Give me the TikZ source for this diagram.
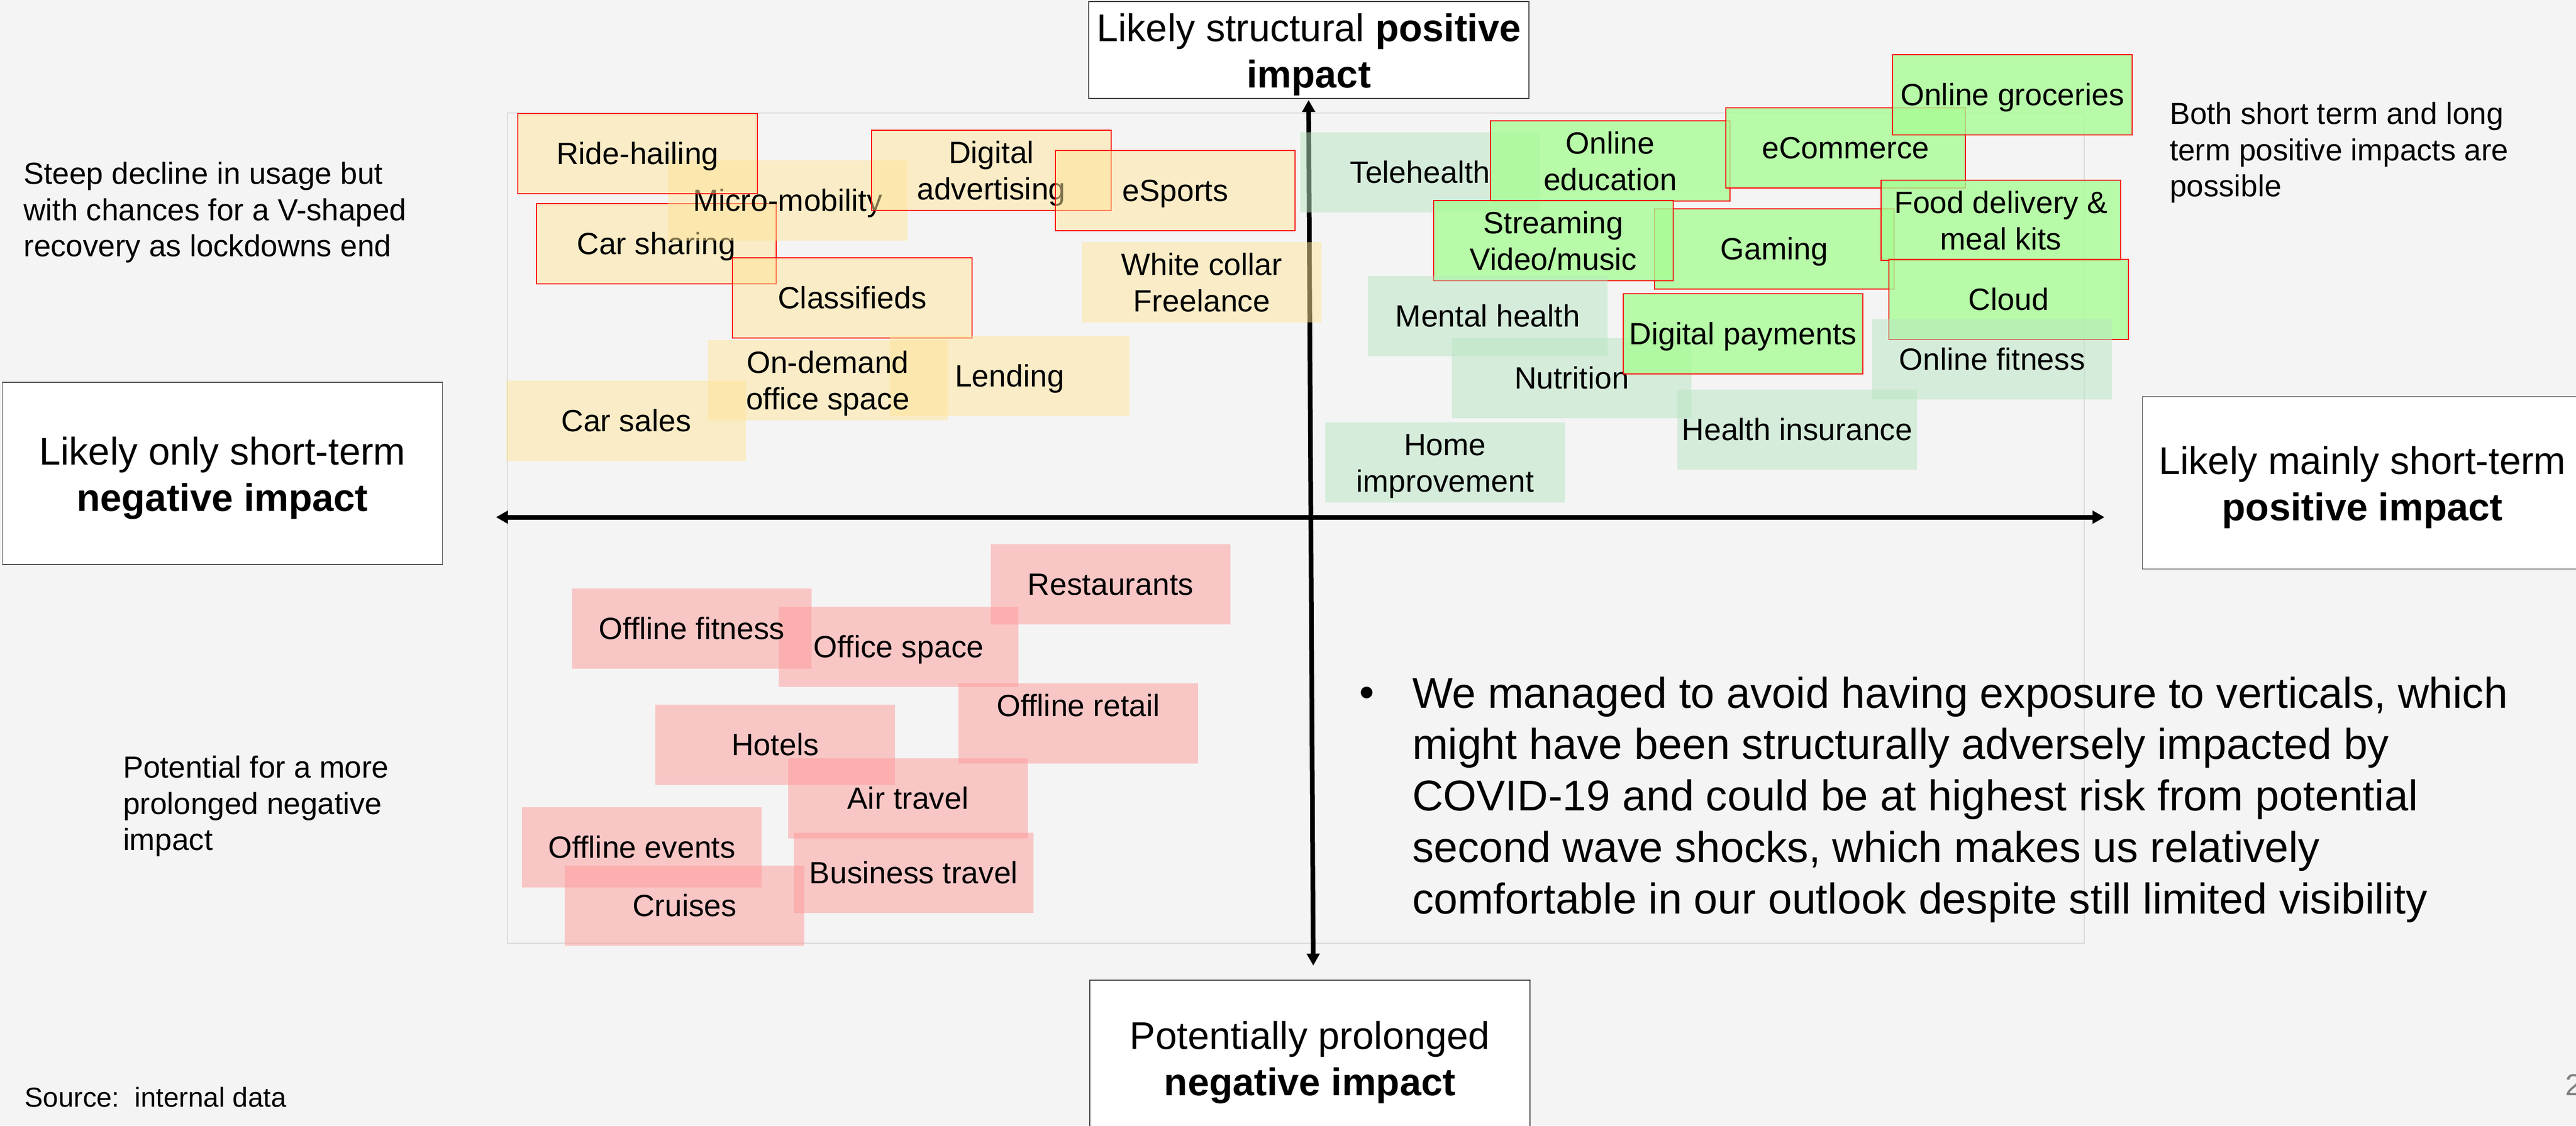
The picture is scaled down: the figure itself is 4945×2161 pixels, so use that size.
\documentclass[tikz,border=0pt]{standalone}
\usepackage{fontspec}
\setmainfont{Liberation Sans}
\usetikzlibrary{arrows.meta}
\definecolor{bgc}{RGB}{244,244,244}
\definecolor{yfill}{RGB}{255,230,153}
\definecolor{pfill}{RGB}{255,153,153}
\definecolor{lgfill}{RGB}{184,230,194}
\definecolor{bgfill}{RGB}{168,252,149}
\definecolor{bred}{RGB}{255,0,0}
\definecolor{framec}{RGB}{217,217,217}
\definecolor{lblborder}{RGB}{64,64,64}
\newcommand\qfont{\fontsize{11.8pt}{14.1pt}\selectfont}
\newcommand\lblfont{\fontsize{14.8pt}{17.8pt}\selectfont}
\newcommand\sidefont{\fontsize{11.7pt}{13.95pt}\selectfont}
\newcommand\bulfont{\fontsize{16.5pt}{19.74pt}\selectfont}
\newcommand\srcfont{\fontsize{10.56pt}{12.6pt}\selectfont}
\newcommand\qstrut{\rule[-0.212em]{0pt}{1.117em}}
\newcommand\twoline[2]{\raisebox{-1.47pt}[\height][\depth]{\begin{tabular}{@{}c@{}}#1\\#2\end{tabular}}}
\newcommand\twolbl[2]{\raisebox{-1.94pt}[\height][\depth]{\begin{tabular}{@{}c@{}}#1\\#2\end{tabular}}}
\tikzset{
  qbox/.style={minimum width=92pt, minimum height=30.7pt, inner sep=0pt, align=center, font=\qfont, text opacity=1,
    execute at begin node=\qstrut, execute at end node=\qstrut},
  ybox/.style={qbox, fill=yfill, fill opacity=0.5},
  pbox/.style={qbox, fill=pfill, fill opacity=0.5},
  lgbox/.style={qbox, fill=lgfill, fill opacity=0.5},
  gbox/.style={qbox, fill=bgfill, fill opacity=0.8},
  redline/.style={draw=bred, line width=0.4pt},
  lblbox/.style={draw=lblborder, line width=0.35pt, fill=white, minimum width=169pt, inner sep=0pt, align=center, font=\lblfont},
  sidetext/.style={anchor=north west, inner sep=0pt, align=left, font=\sidefont},
  axisline/.style={line width=1.8pt, {Triangle[width=4.8pt,length=4.6pt]}-{Triangle[width=4.8pt,length=4.6pt]}},
}
\begin{document}
\begin{tikzpicture}[x=0.2pt,y=-0.2pt]
\fill[bgc] (0,0) rectangle (4945,2161);
\useasboundingbox (0,0) rectangle (4945,2161);

% frame
\draw[framec, line width=0.4pt] (974,217) rectangle (4001,1811);

% outer label boxes
\node[lblbox, minimum height=37.3pt] (top) at (2512.5,96) {\twolbl{Likely structural \textbf{positive}}{\textbf{impact}}};
\node[lblbox, minimum height=70.1pt] (left) at (427,909) {\twolbl{Likely only short-term}{\textbf{negative impact}}};
\node[lblbox, minimum height=66.2pt] (right) at (4535,927) {\twolbl{Likely mainly short-term}{\textbf{positive impact}}};
\node[lblbox, minimum height=59.8pt] (bottom) at (2514.5,2031.5) {\twolbl{Potentially prolonged}{\textbf{negative impact}}};

% axes
\coordinate (vtop) at (2512,192);
\coordinate (vbot) at (2521,1854);
\coordinate (hleft) at (952,993);
\coordinate (hright) at (4040,993);
\draw[axisline] (vbot) -- (vtop);
\draw[axisline] (hleft) -- (hright);

% top-left quadrant (yellow)
\node[ybox, redline] (carsharing) at (1260,468) {Car sharing};
\node[ybox] (micro) at (1512,385) {Micro-mobility};
\node[ybox, redline] (ride) at (1224,295) {Ride-hailing};
\node[ybox, redline] (digad) at (1903,327) {\twoline{Digital}{advertising}};
\node[ybox, redline] (esports) at (2256,366) {eSports};
\node[ybox, redline] (classif) at (1636,572) {Classifieds};
\node[ybox] (white) at (2307,542) {\twoline{White collar}{Freelance}};
\node[ybox] (carsales) at (1202,808) {Car sales};
\node[ybox] (lending) at (1938,722) {Lending};
\node[ybox] (ondemand) at (1589,730) {\twoline{On-demand}{office space}};

% top-right quadrant (green)
\node[lgbox] (tele) at (2726,331) {Telehealth};
\node[gbox, redline] (onedu) at (3091,309) {\twoline{Online}{education}};
\node[gbox, redline] (ecom) at (3543,284) {eCommerce};
\node[gbox, redline] (ongroc) at (3863,182) {Online groceries};
\node[gbox, redline] (gaming) at (3406,478) {Gaming};
\node[gbox, redline] (stream) at (2982,462) {\twoline{Streaming}{Video/music}};
\node[gbox, redline] (food) at (3841,423) {\twoline{Food delivery \&}{meal kits}};
\node[gbox, redline] (cloud) at (3856,575) {Cloud};
\node[lgbox] (mental) at (2856,607) {Mental health};
\node[lgbox] (nutrition) at (3017,726) {Nutrition};
\node[gbox, redline] (digpay) at (3346,641) {Digital payments};
\node[lgbox] (onfit) at (3824,690) {Online fitness};
\node[lgbox] (healthins) at (3450,825) {Health insurance};
\node[lgbox] (homeimp) at (2774,888) {\twoline{Home}{improvement}};

% bottom-left quadrant (pink)
\node[pbox] (restaurants) at (2132,1122) {Restaurants};
\node[pbox] (officespace) at (1725,1242) {Office space};
\node[pbox] (offfit) at (1328,1207) {Offline fitness};
\node[pbox] (offretail) at (2070,1389) {\twoline{Offline retail}{\mbox{}}};
\node[pbox] (hotels) at (1488,1430) {Hotels};
\node[pbox] (airtravel) at (1743,1533) {Air travel};
\node[pbox] (offevents) at (1232,1627) {Offline events};
\node[pbox] (cruises) at (1314,1739) {Cruises};
\node[pbox] (bustravel) at (1754,1676) {Business travel};

% side texts
\node[sidetext] (steep) at (44.6,310) {Steep decline in usage but\\with chances for a V-shaped\\recovery as lockdowns end};
\node[sidetext] (both) at (4164,195) {Both short term and long\\term positive impacts are\\possible};
\node[sidetext] (potential) at (235,1450) {Potential for a more\\prolonged negative\\impact};
\node[anchor=base west, inner sep=0pt, font=\srcfont] (source) at (46.6,2125.5) {Source:~~internal data};

% bullet text
\node[anchor=base, inner sep=0pt, font=\bulfont] (bullet) at (2624,1357.7) {•};
\node[anchor=north west, inner sep=0pt, align=left, font=\bulfont] (bullettext) at (2710,1298.4) {We managed to avoid having exposure to verticals, which\\might have been structurally adversely impacted by\\COVID-19 and could be at highest risk from potential\\second wave shocks, which makes us relatively\\comfortable in our outlook despite still limited visibility};

% page number
\node[anchor=base west, inner sep=0pt, font=\sidefont, text=gray] (pagenum) at (4923,2103) {2};
\end{tikzpicture}
\end{document}
